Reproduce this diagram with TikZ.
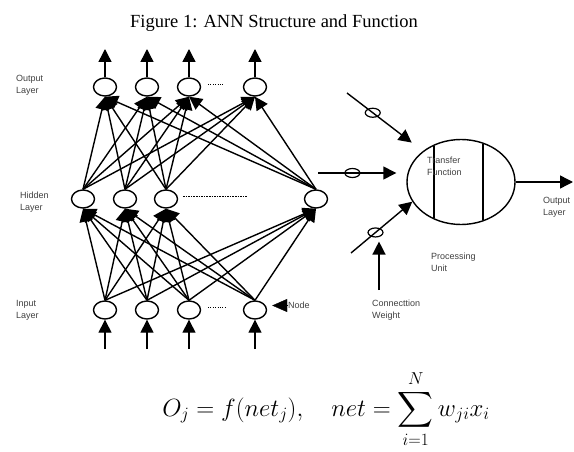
\documentclass[tikz,border=0pt]{standalone}
\usepackage{exscale}
\usepackage{fontspec}
\setmainfont{Liberation Serif}
\setsansfont{Liberation Sans}
\usetikzlibrary{arrows.meta,shapes.geometric}

\begin{document}
\begin{tikzpicture}[x=1pt, y=-1pt, >={Triangle[length=13pt,width=13pt]},
    neuron/.style={draw, ellipse, line width=1.4pt, minimum width=23pt,
                   minimum height=18pt, inner sep=0pt},
    link/.style={->, line width=1.4pt},
    weight/.style={draw, ellipse, line width=1.2pt, minimum width=15pt,
                   minimum height=9pt, inner sep=0pt},
    lbl/.style={anchor=north west, inner sep=0pt, align=left, text=black!75,
                font=\sffamily\fontsize{9}{12}\selectfont}]

    \useasboundingbox (0,0) rectangle (574,452);

    % Caption on top.
    \node[anchor=base, font=\fontsize{18.5}{22}\selectfont] (title) at (274,28)
        {Figure 1: ANN Structure and Function};

    % Input, hidden and output layers.
    \foreach \i/\x in {1/105, 2/147, 3/189, 4/255} {
        \node[neuron] (in\i)  at (\x,310) {};
        \node[neuron] (out\i) at (\x,87)  {};
    }
    \foreach \i/\x in {1/83, 2/125, 3/166, 4/316}
        \node[neuron] (hid\i) at (\x,199) {};

    % Every node feeds every node of the next layer.
    \foreach \a in {1,...,4}
        \foreach \b in {1,...,4} {
            \draw[link] (in\a.north)  -- (hid\b.south);
            \draw[link] (hid\a.north) -- (out\b.south);
        }

    % Signals coming in at the bottom and leaving at the top.
    \foreach \i/\x in {1/105, 2/147, 3/189, 4/255} {
        \coordinate (src\i) at (\x,349);
        \coordinate (dst\i) at (\x,49);
        \draw[link] (src\i) -- (in\i.south);
        \draw[link] (out\i.north) -- (dst\i);
    }

    % Dots for the nodes left out.
    \draw[line width=0.6pt, dash pattern=on 0.8pt off 1.6pt] (208,84) -- (223,84);
    \draw[line width=0.6pt, dash pattern=on 1.6pt off 1pt] (183,196) -- (248,196);
    \draw[line width=0.6pt, dash pattern=on 0.8pt off 1.6pt] (208,307) -- (227,307);

    % Layer names.
    \node[lbl] (outname) at (16,75)  {Output\\Layer};
    \node[lbl] (hidname) at (20,192) {Hidden\\Layer};
    \node[lbl] (inname)  at (16,300) {Input\\Layer};
    \node[lbl] (nodename) at (288,302) {Node};
    \draw[->, >={Triangle[length=15pt,width=13pt]}, shorten >=5pt]
        (nodename.west) -- (nodename.west -| in4.east);

    % The processing unit on the right.
    \node[draw, ellipse, line width=1.4pt, minimum width=108pt, minimum height=85pt,
          inner sep=0pt] (pu) at (461,182) {};
    \draw[line width=1.4pt] (434,146) -- (434,218);
    \draw[line width=1.4pt] (483,144) -- (483,220);
    \node[lbl] (tf) at (427,157) {Transfer\\Function};

    % Weighted inputs of the unit.
    \coordinate (wa) at (347,93);
    \coordinate (wb) at (318,173);
    \coordinate (wc) at (351,253);
    \coordinate (wd) at (379,290);
    \draw[link, shorten >=14pt] (wa) -- node[weight, pos=0.34] (ka) {} (pu.141);
    \draw[link, shorten >=10pt] (wb) -- node[weight, pos=0.39] (kb) {} (pu.west |- wb);
    \draw[link] (wc) -- node[weight, pos=0.40] (kc) {} (pu.202);
    \draw[link, shorten >=4pt] (wd) -- (wd |- kc.south);

    % Output of the unit.
    \coordinate (res) at (573,182);
    \draw[link] (pu.east) -- (res);

    \node[lbl] (puname) at (431,253) {Processing\\Unit};
    \node[lbl] (wname)  at (372,300) {Connecttion\\Weight};
    \node[lbl] (resname) at (543,197) {Output\\Layer};

    % Formula of the unit.
    \node[anchor=base, font=\fontsize{24}{28}\selectfont] (formula) at (326,416)
        {$\displaystyle O_j = f(net_j), \quad net = \sum_{i=1}^{N} w_{ji} x_i$};
\end{tikzpicture}
\end{document}
